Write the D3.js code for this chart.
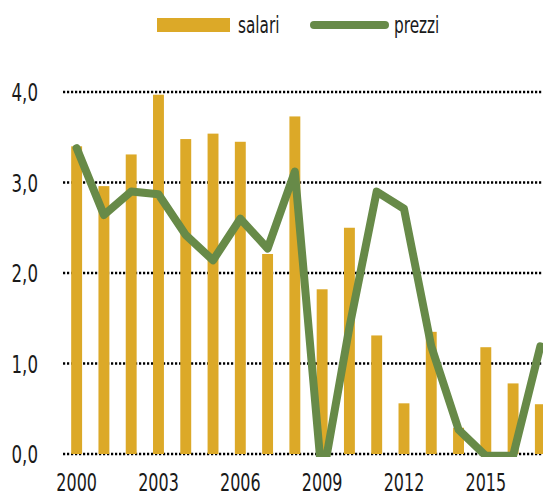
<!DOCTYPE html>
<html>
<head>
<meta charset="utf-8">
<script src="https://cdn.jsdelivr.net/npm/d3@7"></script>
<style>
  body { margin: 0; background: #fff; }
  text { font-family: "DejaVu Sans Condensed", "DejaVu Sans", sans-serif; font-stretch: condensed; fill: #1a1a1a; }
</style>
</head>
<body>
<div id="chart"></div>
<script>
'use strict';
// anni, salari (barre), prezzi (linea)
var years = [2000, 2001, 2002, 2003, 2004, 2005, 2006, 2007, 2008, 2009,
             2010, 2011, 2012, 2013, 2014, 2015, 2016, 2017];
var salari = [3.40, 2.96, 3.31, 3.97, 3.48, 3.54, 3.45, 2.21, 3.73, 1.82,
              2.50, 1.31, 0.56, 1.35, 0.29, 1.18, 0.78, 0.55];
var prezzi = [3.38, 2.64, 2.90, 2.87, 2.42, 2.14, 2.60, 2.27, 3.12, -0.30,
              1.40, 2.90, 2.71, 1.19, 0.27, -0.02, -0.02, 1.19];
var yTicks = [0, 1, 2, 3, 4];
var xTickYears = [2000, 2003, 2006, 2009, 2012, 2015];

var width = 543, height = 496;
var margin = { top: 92, right: -11, bottom: 42, left: 63 };
var squeeze = 0.74; // carattere stretto e alto

var svg = d3.select("#chart").append("svg")
    .attr("width", width)
    .attr("height", height);

var x = d3.scaleBand()
    .domain(years)
    .range([margin.left, width - margin.right])
    .paddingInner(0.6)
    .paddingOuter(0.3);

var y = d3.scaleLinear()
    .domain([0, 4])
    .range([height - margin.bottom, margin.top]);

var fmt = function (d) { return d3.format(".1f")(d).replace(".", ","); };

function tr(px, py) {
    return "translate(" + px + "," + py + ") scale(" + squeeze + ",1)";
}

// area del grafico: la linea sotto lo zero viene tagliata
svg.append("clipPath")
    .attr("id", "plot-clip")
    .append("rect")
    .attr("x", 0)
    .attr("y", 0)
    .attr("width", width)
    .attr("height", y(0) + 3);

// griglia punteggiata
svg.selectAll(".grid").data(yTicks).enter()
    .append("line")
    .attr("class", "grid")
    .attr("x1", margin.left)
    .attr("x2", width)
    .attr("y1", function (d) { return y(d); })
    .attr("y2", function (d) { return y(d); })
    .style("stroke", "#000")
    .style("stroke-width", 2.6)
    .style("stroke-dasharray", "2.2,1.8");

svg.selectAll(".yLabel").data(yTicks).enter()
    .append("text")
    .attr("class", "yLabel")
    .attr("transform", function (d) { return tr(38, y(d)); })
    .attr("dy", "0.37em")
    .style("text-anchor", "end")
    .style("font-size", "25px")
    .text(fmt);

// barre salari
svg.selectAll(".bar").data(years).enter()
    .append("rect")
    .attr("class", "bar")
    .attr("x", function (d) { return x(d); })
    .attr("y", function (d, i) { return y(salari[i]); })
    .attr("width", x.bandwidth())
    .attr("height", function (d, i) { return y(0) - y(salari[i]); })
    .style("fill", "#dca928");

// linea prezzi
var line = d3.line()
    .x(function (d, i) { return x(years[i]) + x.bandwidth() / 2; })
    .y(function (d) { return y(d); });

svg.append("path")
    .datum(prezzi)
    .attr("d", line)
    .attr("clip-path", "url(#plot-clip)")
    .style("fill", "none")
    .style("stroke", "#678a48")
    .style("stroke-width", 8)
    .style("stroke-linejoin", "round")
    .style("stroke-linecap", "round");

svg.selectAll(".xLabel").data(xTickYears).enter()
    .append("text")
    .attr("class", "xLabel")
    .attr("transform", function (d) { return tr(x(d) + x.bandwidth() / 2, 491); })
    .style("text-anchor", "middle")
    .style("font-size", "24px")
    .text(function (d) { return d; });

// legenda
var legend = svg.append("g");
legend.append("rect")
    .attr("x", 157).attr("y", 18)
    .attr("width", 73).attr("height", 14)
    .style("fill", "#dca928");
legend.append("text")
    .attr("transform", tr(238, 33))
    .style("font-size", "23px")
    .text("salari");
legend.append("line")
    .attr("x1", 314).attr("x2", 385)
    .attr("y1", 25).attr("y2", 25)
    .style("stroke", "#678a48")
    .style("stroke-width", 8)
    .style("stroke-linecap", "round");
legend.append("text")
    .attr("transform", tr(394, 33))
    .style("font-size", "23px")
    .text("prezzi");
</script>
</body>
</html>
